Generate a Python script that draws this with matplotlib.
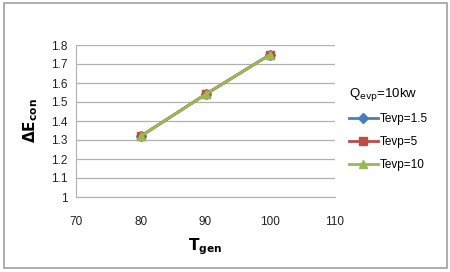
import matplotlib
matplotlib.use("Agg")
import matplotlib.pyplot as plt
from matplotlib.patches import Rectangle

x_vals = [80, 90, 100]
tevp_1_5 = [1.32, 1.54, 1.75]
tevp_5 = [1.32, 1.54, 1.75]
tevp_10 = [1.32, 1.54, 1.75]
labels = ["Tevp=1.5", "Tevp=5", "Tevp=10"]

plt.rcParams['font.family'] = ['Liberation Sans', 'DejaVu Sans']
fig = plt.figure(figsize=(4.5, 2.72), dpi=100)
fig.patches.append(Rectangle((4/450, 1-268/272), 443/450, 265/272, transform=fig.transFigure,
                             fill=False, edgecolor='#a0a0a0', linewidth=1.2))
ax = fig.add_axes([76/450, 1-197/272, (335-76)/450, (197-45)/272])
ax.plot(x_vals, tevp_1_5, color='#4a7ebb', marker='D', markersize=5, linewidth=2, label=labels[0])
ax.plot(x_vals, tevp_5, color='#be4b48', marker='s', markersize=6, linewidth=2, label=labels[1])
ax.plot(x_vals, tevp_10, color='#98b954', marker='^', markersize=6, linewidth=2, label=labels[2])
ax.set_xlim(70, 110)
ax.set_ylim(1, 1.8)
ax.set_xticks([70, 80, 90, 100, 110])
ax.set_yticks([1, 1.1, 1.2, 1.3, 1.4, 1.5, 1.6, 1.7, 1.8])
ax.set_yticklabels(['1', '1.1', '1.2', '1.3', '1.4', '1.5', '1.6', '1.7', '1.8'])
ax.grid(axis='y', color='#b0b0b0', linewidth=0.9)
ax.set_axisbelow(True)
for s in ['top', 'right']:
    ax.spines[s].set_visible(False)
ax.spines['left'].set_color('#b0b0b0')
ax.spines['bottom'].set_color('#b0b0b0')
ax.tick_params(length=0, labelsize=8.5, colors='#222222')
ax.tick_params(axis='x', pad=14)
ax.tick_params(axis='y', pad=6)
ax.set_xlabel(r'$\mathbf{T}_{\mathbf{gen}}$', fontsize=11, labelpad=6)
ax.set_ylabel(r'$\mathbf{\Delta E}_{\mathbf{con}}$', fontsize=11, labelpad=8)
leg = ax.legend(loc='upper left', bbox_to_anchor=(1.03, 0.77), frameon=False,
                title=r'Q$_{\mathrm{evp}}$=10kw', fontsize=8.5, title_fontsize=9.5,
                handlelength=2.5, labelspacing=0.9, handletextpad=0.1, borderpad=0)
leg._legend_box.align = 'left'
fig.savefig('out.png', dpi=100)
